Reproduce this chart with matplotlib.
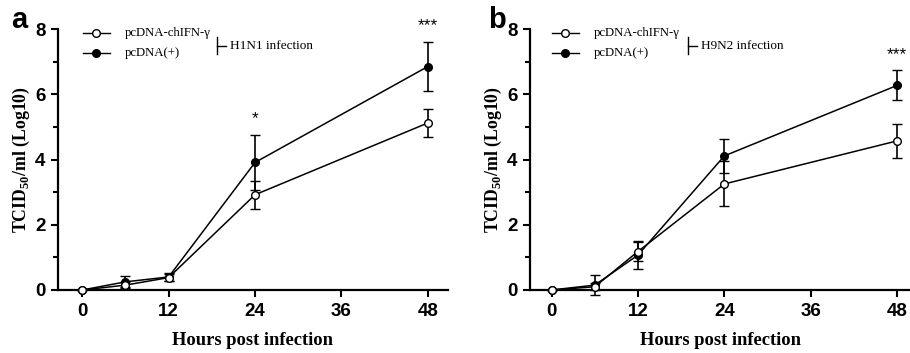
import matplotlib
matplotlib.use("Agg")
import matplotlib.pyplot as plt
from matplotlib.lines import Line2D

plt.rcParams['mathtext.fontset'] = 'custom'
plt.rcParams['mathtext.rm'] = 'Liberation Serif:bold'
plt.rcParams['mathtext.bf'] = 'Liberation Serif:bold'

hours = [0, 6, 12, 24, 48]
series_names = ["pcDNA-chIFN-\u03b3", "pcDNA(+)"]

# Panel a: H1N1
a_ifn = [0.0, 0.15, 0.38, 2.92, 5.12]
a_ifn_err = [0.0, 0.08, 0.1, 0.43, 0.43]
a_ctl = [0.0, 0.25, 0.40, 3.91, 6.85]
a_ctl_err = [0.0, 0.17, 0.12, 0.85, 0.76]
a_stars = {24: "*", 48: "***"}

# Panel b: H9N2
b_ifn = [0.0, 0.10, 1.18, 3.25, 4.57]
b_ifn_err = [0.0, 0.1, 0.3, 0.69, 0.53]
b_ctl = [0.0, 0.15, 1.07, 4.11, 6.27]
b_ctl_err = [0.0, 0.30, 0.42, 0.52, 0.46]
b_stars = {48: "***"}

xticks = [0, 12, 24, 36, 48]
yticks = [0, 2, 4, 6, 8]

W, H = 910, 353
fig = plt.figure(figsize=(W / 100, H / 100), dpi=100)

def px_axes(l, r, t, b):
    return fig.add_axes([l / W, (H - b) / H, (r - l) / W, (b - t) / H])

serif = 'Liberation Serif'
sans = 'Liberation Sans'

def panel(ax, ifn, ifn_err, ctl, ctl_err, stars, xlim, infection, letter,
          leg_x, bracket_x, letter_x):
    kw = dict(color='black', lw=1.1, capsize=3.5, elinewidth=1.2, capthick=1.2,
              markersize=5.5, markeredgewidth=1.0, clip_on=False)
    ax.errorbar(hours, ctl, yerr=ctl_err, marker='o', markerfacecolor='black',
                zorder=3, **kw)
    ax.errorbar(hours, ifn, yerr=ifn_err, marker='o', markerfacecolor='white',
                zorder=4, **kw)
    ax.set_xlim(*xlim)
    ax.set_ylim(0, 8)
    ax.set_xticks(xticks)
    ax.set_yticks(yticks)
    ax.set_yticks([1, 3, 5, 7], minor=True)
    for s in ['top', 'right']:
        ax.spines[s].set_visible(False)
    for s in ['left', 'bottom']:
        ax.spines[s].set_linewidth(1.6)
    ax.tick_params(which='major', length=5, width=1.5, direction='out', pad=4)
    ax.tick_params(which='minor', length=3.5, width=1.5, direction='out')
    for lab in ax.get_xticklabels() + ax.get_yticklabels():
        lab.set_fontfamily(sans)
        lab.set_fontweight('bold')
        lab.set_fontsize(13.5)
    ax.set_xlabel("Hours post infection", fontfamily=serif, fontweight='bold',
                  fontsize=13.3, labelpad=9)
    ax.set_ylabel(r"TCID$_{\mathrm{50}}$/ml (Log10)", fontfamily=serif,
                  fontweight='bold', fontsize=12.8, labelpad=2.5)
    for xh, s in stars.items():
        i = hours.index(xh)
        top = ctl[i] + ctl_err[i]
        ax.annotate(s, (xh, top), xytext=(0, 6), textcoords='offset points',
                    ha='center', va='bottom', fontsize=12.5, fontfamily=sans,
                    annotation_clip=False)
    # legend (figure pixel coordinates)
    tr = fig.transFigure
    rows = [33, 53]
    for y, name, fc in zip(rows, series_names, ['white', 'black']):
        fy = (H - y) / H
        fig.add_artist(Line2D([leg_x / W, (leg_x + 27) / W], [fy, fy], color='black',
                              lw=1.0, transform=tr))
        fig.add_artist(Line2D([(leg_x + 13) / W], [fy], marker='o', markersize=5.5,
                              markerfacecolor=fc, markeredgecolor='black',
                              markeredgewidth=1.0, transform=tr))
        fig.text((leg_x + 42) / W, fy, name, fontfamily=serif, fontsize=9.2,
                 ha='left', va='center')
    fig.add_artist(Line2D([bracket_x / W] * 2, [(H - 37) / H, (H - 54) / H],
                          color='black', lw=1.0, transform=tr))
    fig.add_artist(Line2D([bracket_x / W, (bracket_x + 9) / W], [(H - 46) / H] * 2,
                          color='black', lw=1.0, transform=tr))
    fig.text((bracket_x + 13) / W, (H - 46) / H, infection, fontfamily=serif,
             fontsize=9.5, ha='left', va='center')
    fig.text(letter_x / W, (H - 20) / H, letter, fontfamily=sans, fontweight='bold',
             fontsize=21, ha='center', va='center')

axa = px_axes(58, 448, 29, 290)
panel(axa, a_ifn, a_ifn_err, a_ctl, a_ctl_err, a_stars, (-3.37, 50.8),
      "H1N1 infection", "a", 83, 217, 19)

axb = px_axes(530, 910, 29, 290)
panel(axb, b_ifn, b_ifn_err, b_ctl, b_ctl_err, b_stars, (-3.0, 49.8),
      "H9N2 infection", "b", 552, 688, 497)

fig.savefig("out.png", dpi=100)
